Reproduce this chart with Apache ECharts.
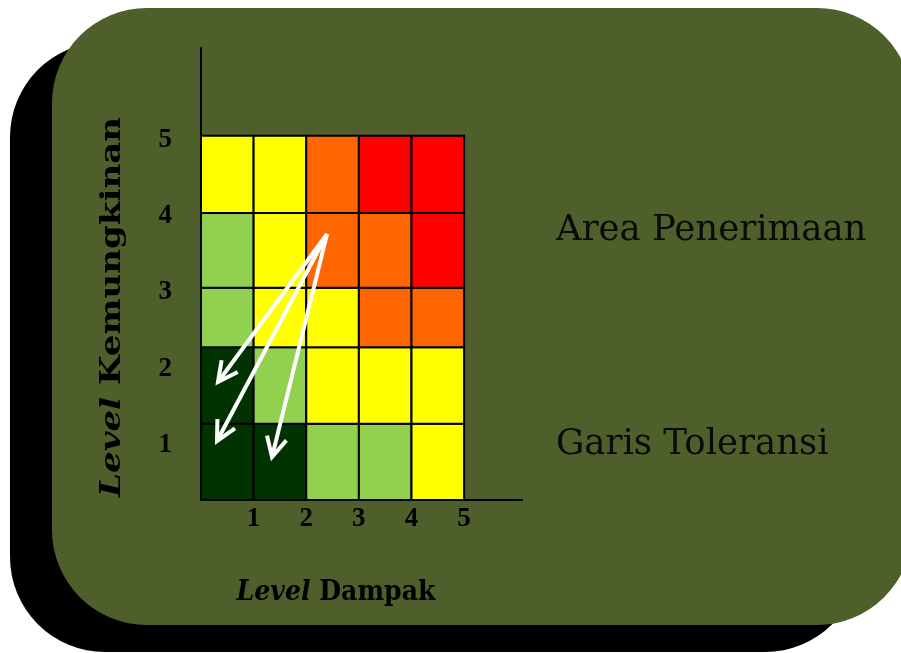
<!DOCTYPE html>
<html><head><meta charset="utf-8">
<script src="https://cdn.jsdelivr.net/npm/echarts@6/dist/echarts.min.js"></script>
<style>html,body{margin:0;padding:0;background:#fff}#c{width:901px;height:653px}</style>
</head><body><div id="c"></div>
<script>
// ---- data ----
const impactTicks = [1, 2, 3, 4, 5];
const likelihoodTicks = [1, 2, 3, 4, 5];
const impactBins = [0, 1, 2, 3, 4, 5];
const likelihoodBins = [0.28, 1.28, 2.28, 3.06, 4.04, 5.05];
// risk level per cell (1 = lowest ... 5 = highest), impact 1..5 left to right
const riskLikelihood1 = [1, 1, 2, 2, 3];
const riskLikelihood2 = [1, 2, 3, 3, 3];
const riskLikelihood3 = [2, 3, 3, 4, 4];
const riskLikelihood4 = [2, 3, 4, 4, 5];
const riskLikelihood5 = [3, 3, 4, 5, 5];
const arrowStart = [2.395, 3.764];
const arrowEnds = [[0.323, 1.826], [0.304, 1.053], [1.349, 0.843]];
const xTitleItalic = 'Level', xTitleRest = ' Dampak';
const yTitleItalic = 'Level', yTitleRest = ' Kemungkinan';
const sideLabels = ['Area Penerimaan', 'Garis Toleransi'];

// ---- styles ----
const levelColors = {1: '#003300', 2: '#92d050', 3: '#ffff00', 4: '#ff6600', 5: '#ff0000'};
const rows = [riskLikelihood1, riskLikelihood2, riskLikelihood3, riskLikelihood4, riskLikelihood5];
const cellData = [];
rows.forEach((row, r) => row.forEach((lv, c) => cellData.push([c, r, lv])));
const arrowData = arrowEnds.map(e => [arrowStart[0], arrowStart[1], e[0], e[1]]);

const cv = document.createElement('canvas').getContext('2d');
function tw(font, s) { cv.font = font; return cv.measureText(s).width; }
const TF = "'DejaVu Serif'";
const ySize = 28, xSize = 28;
const yNat = tw(`italic bold ${ySize}px ${TF}`, yTitleItalic) + tw(`bold ${ySize}px ${TF}`, yTitleRest);
const xNat = tw(`italic bold ${xSize}px ${TF}`, xTitleItalic) + tw(`bold ${xSize}px ${TF}`, xTitleRest);

const chart = echarts.init(document.getElementById('c'), null, {renderer: 'canvas'});
const tickStyle = {color: '#000', fontFamily: 'Liberation Serif', fontWeight: 'bold', fontSize: 27};

chart.setOption({
  animation: false,
  backgroundColor: '#ffffff',
  graphic: [
    {type: 'rect', z: -20, shape: {x: 10, y: 42, width: 850, height: 610, r: 95}, style: {fill: '#000'}},
    {type: 'rect', z: -19, shape: {x: 52, y: 8, width: 860, height: 617, r: 95}, style: {fill: '#4f5f2b'}},
    {type: 'text', z: 10, x: 113, y: 307, rotation: Math.PI / 2, scaleX: 380 / yNat,
      style: {text: `{i|${yTitleItalic}}{b|${yTitleRest}}`, align: 'center', verticalAlign: 'middle',
        rich: {i: {fontFamily: 'DejaVu Serif', fontStyle: 'italic', fontWeight: 'bold', fontSize: ySize, fill: '#000'},
               b: {fontFamily: 'DejaVu Serif', fontWeight: 'bold', fontSize: ySize, fill: '#000'}}}},
    {type: 'text', z: 10, x: 336, y: 593, scaleX: 199 / xNat,
      style: {text: `{i|${xTitleItalic}}{b|${xTitleRest}}`, align: 'center', verticalAlign: 'middle',
        rich: {i: {fontFamily: 'DejaVu Serif', fontStyle: 'italic', fontWeight: 'bold', fontSize: xSize, fill: '#000'},
               b: {fontFamily: 'DejaVu Serif', fontWeight: 'bold', fontSize: xSize, fill: '#000'}}}},
    {type: 'text', z: 10, x: 556, y: 231, style: {text: sideLabels[0], font: "35.5px 'DejaVu Serif'", fill: '#0a0a0a', align: 'left', verticalAlign: 'middle'}},
    {type: 'text', z: 10, x: 556, y: 445, style: {text: sideLabels[1], font: "35.5px 'DejaVu Serif'", fill: '#0a0a0a', align: 'left', verticalAlign: 'middle'}}
  ],
  grid: {left: 201, top: 48, width: 321, height: 452, containLabel: false},
  xAxis: {
    type: 'value', min: 0, max: 6.1,
    axisLine: {show: true, lineStyle: {color: '#000', width: 2}},
    axisTick: {show: false}, splitLine: {show: false},
    axisLabel: Object.assign({customValues: impactTicks, margin: 6}, tickStyle)
  },
  yAxis: {
    type: 'value', min: 0.28, max: 6.2,
    axisLine: {show: true, lineStyle: {color: '#000', width: 2}},
    axisTick: {show: false}, splitLine: {show: false},
    axisLabel: Object.assign({customValues: likelihoodTicks, margin: 29}, tickStyle)
  },
  series: [
    {
      type: 'custom', data: cellData, z: 3,
      encode: {x: 0, y: 1},
      renderItem(params, api) {
        const c = api.value(0), r = api.value(1), lv = api.value(2);
        const p0 = api.coord([impactBins[c], likelihoodBins[r]]);
        const p1 = api.coord([impactBins[c + 1], likelihoodBins[r + 1]]);
        return {type: 'rect', shape: {x: p0[0], y: p1[1], width: p1[0] - p0[0], height: p0[1] - p1[1]},
          style: {fill: levelColors[lv], stroke: '#000', lineWidth: 2}};
      }
    },
    {
      type: 'custom', data: arrowData, z: 5,
      encode: {x: [0, 2], y: [1, 3]},
      renderItem(params, api) {
        const a = api.coord([api.value(0), api.value(1)]);
        const b = api.coord([api.value(2), api.value(3)]);
        const ang = Math.atan2(a[1] - b[1], a[0] - b[0]);
        const L = 22, s = 0.47;
        const h1 = [b[0] + L * Math.cos(ang + s), b[1] + L * Math.sin(ang + s)];
        const h2 = [b[0] + L * Math.cos(ang - s), b[1] + L * Math.sin(ang - s)];
        return {type: 'group', children: [
          {type: 'line', shape: {x1: a[0], y1: a[1], x2: b[0], y2: b[1]}, style: {stroke: '#fff', lineWidth: 4}},
          {type: 'polyline', shape: {points: [h1, b, h2]}, style: {stroke: '#fff', lineWidth: 4, fill: null, lineJoin: 'miter'}}
        ]};
      }
    }
  ]
});
</script></body></html>
